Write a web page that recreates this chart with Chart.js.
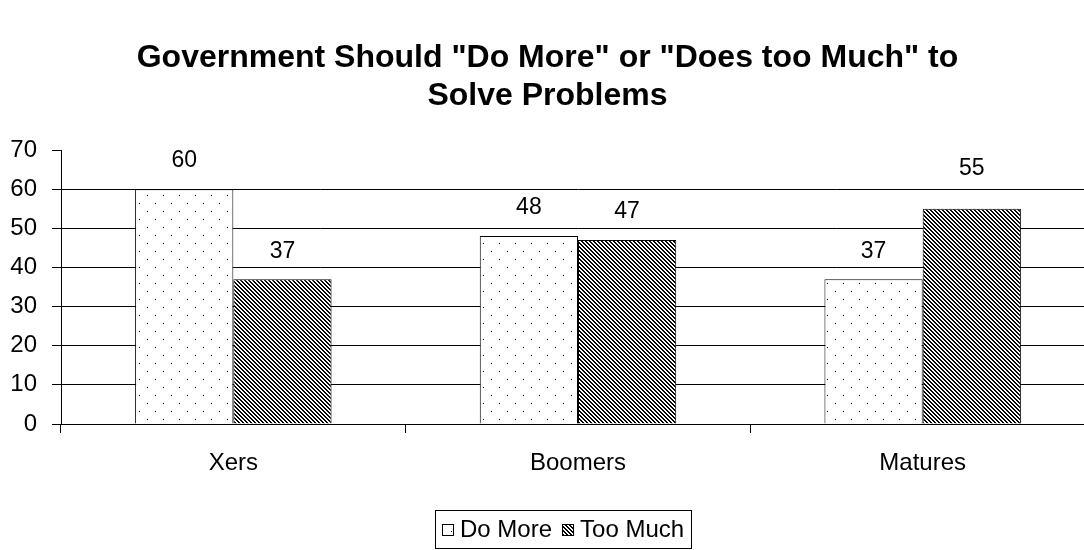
<!DOCTYPE html>
<html>
<head>
<meta charset="utf-8">
<script src="https://cdn.jsdelivr.net/npm/chart.js@4.4.1/dist/chart.umd.min.js"></script>
<style>
  html, body { margin: 0; padding: 0; background: #fff; overflow: hidden; }
  #wrap { position: relative; width: 1095px; height: 550px; }
</style>
</head>
<body>
<div id="wrap"><canvas id="chart" width="1095" height="550"></canvas></div>
<script>
// Chart data
const titleLines = ['Government Should "Do More" or "Does too Much" to', 'Solve Problems'];
const categories = ['Xers', 'Boomers', 'Matures'];
const seriesNames = ['Do More', 'Too Much'];
const doMore = [60, 48, 37];
const tooMuch = [37, 47, 55];
const yTicks = [0, 10, 20, 30, 40, 50, 60, 70];

const FONT = '"Liberation Sans", Arial, sans-serif';

// Sparse staggered dot fill
function dotPattern() {
  const c = document.createElement('canvas');
  c.width = 16; c.height = 16;
  const g = c.getContext('2d');
  g.fillStyle = '#fff'; g.fillRect(0, 0, 16, 16);
  g.fillStyle = '#000';
  g.fillRect(3, 3, 1, 1);
  g.fillRect(11, 11, 1, 1);
  return g.createPattern(c, 'repeat');
}

// Dense diagonal stripes running down to the right
function stripePattern() {
  const n = 4;
  const c = document.createElement('canvas');
  c.width = n; c.height = n;
  const g = c.getContext('2d');
  const img = g.createImageData(n, n);
  for (let y = 0; y < n; y++) {
    for (let x = 0; x < n; x++) {
      const on = ((x - y) % n + n) % n < 2;
      const v = on ? 0 : 255;
      const i = (y * n + x) * 4;
      img.data[i] = v; img.data[i + 1] = v; img.data[i + 2] = v; img.data[i + 3] = 255;
    }
  }
  g.putImageData(img, 0, 0);
  return g.createPattern(c, 'repeat');
}

const fills = [dotPattern(), stripePattern()];

// Value labels above each bar; a label that would sit on a gridline is lifted clear of it
const valueLabels = {
  id: 'valueLabels',
  afterDatasetsDraw(chart) {
    const ctx = chart.ctx;
    const yScale = chart.scales.y;
    const gridYs = yTicks.slice(1, -1).map(v => yScale.getPixelForValue(v));
    const half = 9;
    ctx.save();
    ctx.font = '23px ' + FONT;
    ctx.fillStyle = '#000';
    ctx.textAlign = 'center';
    ctx.textBaseline = 'middle';
    chart.data.datasets.forEach((ds, di) => {
      chart.getDatasetMeta(di).data.forEach((bar, i) => {
        let cy = bar.y - 28;
        gridYs.forEach(gy => {
          if (gy >= cy - half - 1 && gy <= cy + half + 1) cy = gy - 20;
        });
        ctx.fillText(String(ds.data[i]), bar.x, cy);
      });
    });
    ctx.restore();
  }
};

// Boxed legend below the axis
const boxedLegend = {
  id: 'boxedLegend',
  afterDraw(chart) {
    const ctx = chart.ctx;
    ctx.save();
    ctx.font = '24px ' + FONT;
    const sw = 12, gap = 6, itemGap = 10, padX = 7;
    const items = chart.data.datasets.map((ds, i) => ({ text: ds.label, fill: fills[i], w: sw + gap + ctx.measureText(ds.label).width }));
    const total = Math.round(items.reduce((s, it) => s + it.w, 0) + itemGap * (items.length - 1) + padX * 2);
    const cx = 563, top = 510, h = 38;
    const left = Math.round(cx - total / 2);
    ctx.fillStyle = '#fff';
    ctx.fillRect(left, top, total, h);
    ctx.strokeStyle = '#000';
    ctx.lineWidth = 1;
    ctx.strokeRect(left + 0.5, top + 0.5, total, h);
    let x = left + padX;
    const my = top + h / 2 + 1;
    items.forEach(it => {
      const sy = Math.round(my - sw / 2);
      ctx.fillStyle = it.fill;
      ctx.fillRect(x, sy, sw, sw);
      ctx.strokeStyle = '#000';
      ctx.strokeRect(x + 0.5, sy + 0.5, sw - 1, sw - 1);
      ctx.fillStyle = '#000';
      ctx.textAlign = 'left';
      ctx.textBaseline = 'middle';
      ctx.fillText(it.text, x + sw + gap, my);
      x += it.w + itemGap;
    });
    ctx.restore();
  }
};

new Chart(document.getElementById('chart'), {
  type: 'bar',
  data: {
    labels: categories,
    datasets: [
      { label: seriesNames[0], data: doMore, backgroundColor: fills[0], borderColor: '#000', borderWidth: 1 },
      { label: seriesNames[1], data: tooMuch, backgroundColor: fills[1], borderColor: '#000', borderWidth: 1 }
    ]
  },
  plugins: [valueLabels, boxedLegend],
  options: {
    responsive: false,
    animation: false,
    events: [],
    layout: { padding: { top: 0, left: 0, right: 0, bottom: 66 } },
    plugins: {
      legend: { display: false },
      tooltip: { enabled: false },
      title: {
        display: true,
        text: titleLines,
        color: '#000',
        font: { family: FONT, size: 32, weight: 'bold', lineHeight: 38 / 32 },
        padding: { top: 39, bottom: 35 }
      }
    },
    datasets: { bar: { categoryPercentage: 0.57, barPercentage: 1.0 } },
    scales: {
      x: {
        offset: true,
        afterFit(axis) { axis.height = 60; },
        border: { color: '#000', width: 1 },
        grid: { offset: true, drawOnChartArea: false, drawTicks: true, tickLength: 9, tickColor: '#000' },
        ticks: { color: '#000', font: { family: FONT, size: 24 }, padding: 16 }
      },
      y: {
        min: 0, max: 70,
        afterBuildTicks(axis) { axis.ticks = yTicks.map(v => ({ value: v })); },
        afterFit(axis) { axis.width = 61; },
        border: { color: '#000', width: 1 },
        grid: {
          color: ctx => (ctx.tick && ctx.tick.value === 70 ? 'rgba(0,0,0,0)' : '#000'),
          tickColor: '#000',
          tickLength: 9,
          drawTicks: true
        },
        ticks: { color: '#000', font: { family: FONT, size: 24 }, padding: 15 }
      }
    }
  }
});
</script>
</body>
</html>
